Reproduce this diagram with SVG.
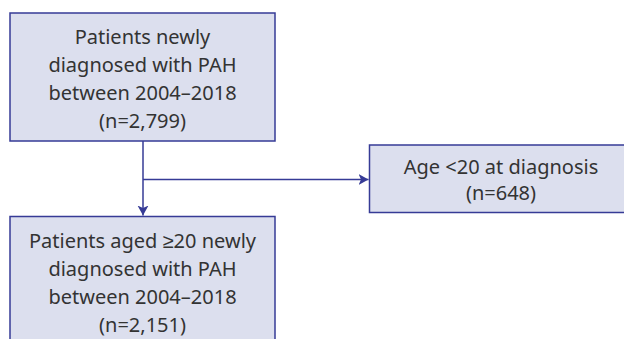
<svg xmlns="http://www.w3.org/2000/svg" width="624" height="339" viewBox="0 0 624 339">
<style>
.box{fill:#dcdfee;stroke:#363b96;stroke-width:1.5}
.t{font-family:"Noto Sans","Liberation Sans",sans-serif;font-size:20px;fill:#333;text-anchor:middle}
.c{stroke:#363b96;stroke-width:1.5;fill:none}
</style>
<defs>
<marker id="ah" markerWidth="12" markerHeight="12" refX="10" refY="6" orient="auto" markerUnits="userSpaceOnUse">
<path d="M0,0.5 L10,6 L0,11.5 L2.5,6 Z" fill="#363b96"/>
</marker>
</defs>
<rect width="624" height="339" fill="#fff"/>
<g id="n1">
<rect class="box" x="10" y="13" width="265" height="128"/>
<text class="t" x="142.5" y="44">Patients newly</text>
<text class="t" x="142.5" y="72">diagnosed with PAH</text>
<text class="t" x="142.5" y="100">between 2004–2018</text>
<text class="t" x="142.5" y="128">(n=2,799)</text>
</g>
<g id="n2">
<rect class="box" x="369.5" y="145" width="264" height="67.5"/>
<text class="t" x="501" y="174">Age &lt;20 at diagnosis</text>
<text class="t" x="501" y="200">(n=648)</text>
</g>
<g id="n3">
<rect class="box" x="10" y="216.5" width="265" height="140"/>
<text class="t" x="142.5" y="248">Patients aged ≥20 newly</text>
<text class="t" x="142.5" y="276">diagnosed with PAH</text>
<text class="t" x="142.5" y="304">between 2004–2018</text>
<text class="t" x="142.5" y="332">(n=2,151)</text>
</g>
<g id="connectors">
<path class="c" d="M143,141 V215.5" marker-end="url(#ah)"/>
<path class="c" d="M143,179.5 H368.5" marker-end="url(#ah)"/>
</g>
</svg>
